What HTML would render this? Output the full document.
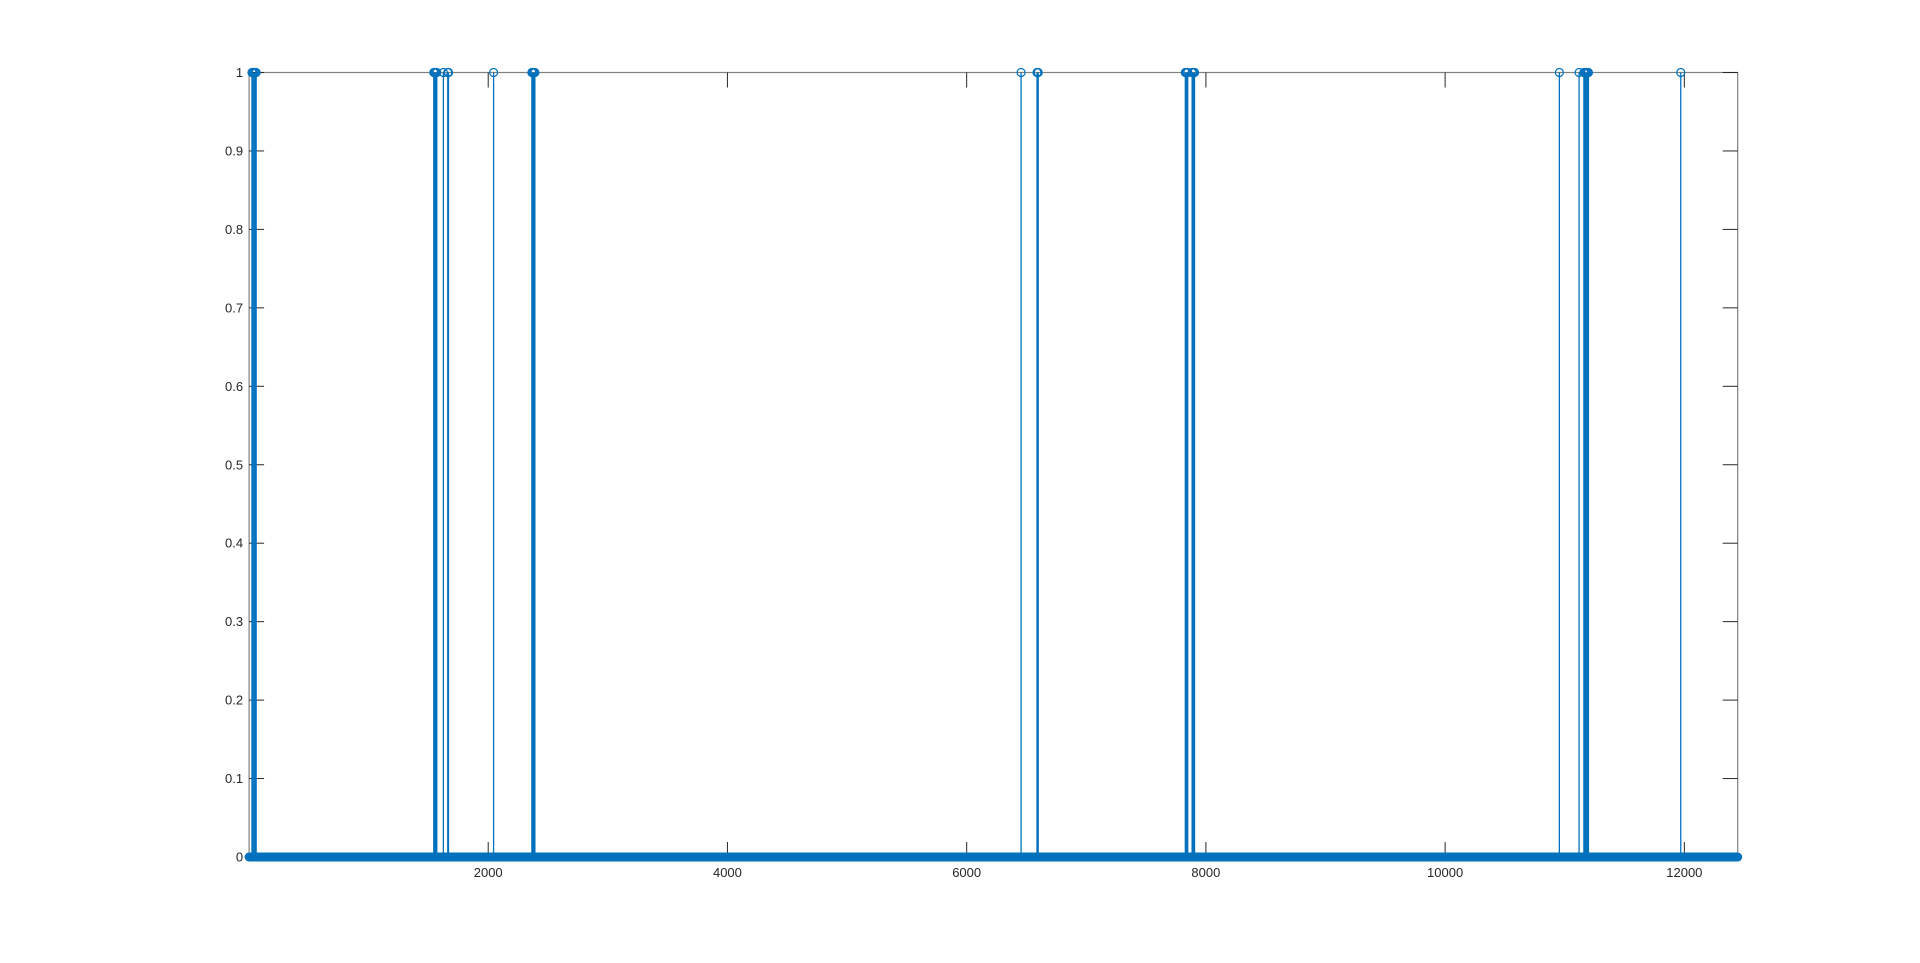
<!DOCTYPE html>
<html><head><meta charset="utf-8"><style>
html,body{margin:0;padding:0;background:#fff;}
svg{display:block;font-family:"Liberation Sans",sans-serif;}
</style></head><body>
<svg id="chart" width="1920" height="963" viewBox="0 0 1920 963" xmlns="http://www.w3.org/2000/svg"></svg>
<script>
const xDomain = [1, 12446];
const yDomain = [0, 1];
const xTicks = [2000, 4000, 6000, 8000, 10000, 12000];
const yTicks = [0, 0.1, 0.2, 0.3, 0.4, 0.5, 0.6, 0.7, 0.8, 0.9, 1];
const yTickLabels = ["0","0.1","0.2","0.3","0.4","0.5","0.6","0.7","0.8","0.9","1"];
const sampleCount = 12446;
const onePositions = [25,35,45,55,60,1545,1552,1558,1565,1570,1625,1662,1668,2045,2365,2372,2378,2385,2390,6455,6588,6593,6598,7828,7835,7842,7848,7885,7892,7898,7905,10955,11120,11160,11168,11175,11182,11190,11198,11970];
const oneValues = onePositions.map(()=>1);

const L=249.1,R=1737.7,T=72.5,B=857;
const NS="http://www.w3.org/2000/svg";
const svg=document.getElementById('chart');
const sx=v=>L+(v-xDomain[0])/(xDomain[1]-xDomain[0])*(R-L);
const sy=v=>B-(v-yDomain[0])/(yDomain[1]-yDomain[0])*(B-T);
function mk(tag,attrs){const e=document.createElementNS(NS,tag);for(const k in attrs)e.setAttribute(k,attrs[k]);svg.appendChild(e);return e;}
const ax="#262626";
// box
let box=mk('rect',{x:L,y:T,width:R-L,height:B-T,fill:'none',stroke:'#808080','stroke-width':1.2});


// y ticks
yTicks.forEach((v,i)=>{
  const y=sy(v);
  let t=mk('line',{x1:L,x2:L+15,y1:y,y2:y,stroke:ax,'stroke-width':1});
  
  
  let t2=mk('line',{x1:R-15,x2:R,y1:y,y2:y,stroke:ax,'stroke-width':1});
  
  
  let lb=mk('text',{x:L-6,y:y+4.5,'text-anchor':'end','font-size':13,fill:ax});
  lb.textContent=yTickLabels[i];
  
  
});
xTicks.forEach(v=>{
  const x=sx(v);
  let t=mk('line',{x1:x,x2:x,y1:B,y2:B-15,stroke:ax,'stroke-width':1});
  
  
  let t2=mk('line',{x1:x,x2:x,y1:T,y2:T+15,stroke:ax,'stroke-width':1});
  
  
  let lb=mk('text',{x:x,y:B+20,'text-anchor':'middle','font-size':13,fill:ax});
  lb.textContent=String(v);
  
  
});
const col="#0072BD";
// zero-valued stems (dense markers forming band)
let base=mk('line',{x1:sx(1),x2:sx(sampleCount),y1:sy(0),y2:sy(0),stroke:col,'stroke-width':9,'stroke-linecap':'round'});


onePositions.forEach((p,i)=>{
  const x=sx(p);
  let s=mk('line',{x1:x,x2:x,y1:sy(0),y2:sy(oneValues[i]),stroke:col,'stroke-width':1.3});
  
  
  let c=mk('circle',{cx:x,cy:sy(oneValues[i]),r:4,fill:'none',stroke:col,'stroke-width':1.2});
  
  
});
</script>
</body></html>
